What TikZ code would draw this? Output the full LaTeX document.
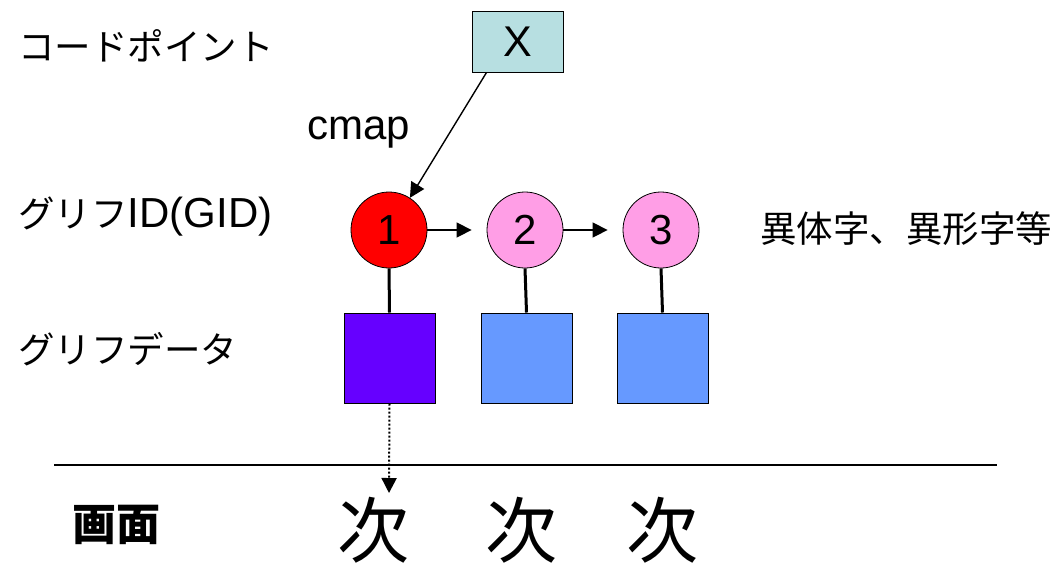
\documentclass[tikz,border=0pt]{standalone}
\usepackage{fontspec}
\setmainfont{Liberation Sans}
\newfontfamily\jp{Noto Sans CJK JP}
\usetikzlibrary{arrows.meta}
\definecolor{xfill}{HTML}{B7DFE1}
\definecolor{pinkc}{HTML}{FF9EE6}
\definecolor{violetsq}{HTML}{6600FF}
\definecolor{bluesq}{HTML}{6699FF}
\tikzset{
  lbl/.style={anchor=west, inner sep=0pt, font=\fontsize{36.5}{40}\selectfont\jp},
  gid/.style={circle, draw=black, line width=0.8pt, minimum size=76pt, inner sep=0pt, font=\fontsize{42}{46}\selectfont},
  gdata/.style={draw=black, line width=1pt, minimum width=91pt, minimum height=90pt, inner sep=0pt},
  tip/.style={-{Triangle[length=15pt,width=15pt]}},
  arr/.style={tip, line width=1.4pt},
  stem/.style={line width=3pt},
  glyph/.style={inner sep=0pt, font=\fontsize{72}{76}\selectfont\jp}
}
\begin{document}
\begin{tikzpicture}[x=1pt,y=-1pt]
\useasboundingbox (0,0) rectangle (1064,566);
% left labels
\node[lbl] (lcp) at (18,46) {コードポイント};
\node[lbl] (lgid) at (18,217) {グリフ{\rmfamily\fontsize{42}{46}\selectfont ID(GID)}};
\node[lbl] (lgd) at (18,349) {グリフデータ};
\node[lbl] (lvar) at (760,229) {異体字、異形字等};
\node[anchor=west, inner sep=0pt, font=\fontsize{44}{48}\selectfont\jp\bfseries] (lscr) at (72,525) {画面};
% code point box
\node[draw=black, line width=1pt, fill=xfill, minimum width=91pt, minimum height=61pt, inner sep=0pt, font=\fontsize{43}{46}\selectfont] (x) at (517.5,41.5) {X};
\node[anchor=base west, inner sep=0pt, font=\fontsize{42}{46}\selectfont] (cmap) at (307,139) {cmap};
% GIDs
\node[gid, fill=red] (c1) at (389,230) {1};
\node[gid, fill=pinkc] (c2) at (525,230) {2};
\node[gid, fill=pinkc] (c3) at (661,230) {3};
% glyph data
\node[gdata, fill=violetsq] (s1) at (389.5,358) {};
\node[gdata, fill=bluesq] (s2) at (526.5,358) {};
\node[gdata, fill=bluesq] (s3) at (662.5,358) {};
% connectors
\draw[arr] ([xshift=15pt]x.south west) -- (c1.57);
\draw[arr] (c1.east) -- ([xshift=-15pt]c2.west);
\draw[arr] (c2.east) -- ([xshift=-15pt]c3.west);
\draw[stem] (c1.south) -- (s1.north);
\draw[stem] (c2.south) -- (s2.north);
\draw[stem] (c3.south) -- (s3.north);
% separator
\coordinate (la) at (54,465);
\coordinate (lb) at (997,465);
\draw[line width=1.4pt] (la) -- (lb);
% screen glyphs
\node[glyph] (g1) at (373,530) {次};
\node[glyph] (g2) at (521,530) {次};
\node[glyph] (g3) at (662,530) {次};
\coordinate (g1top) at (389,493);
\draw[tip, line width=2pt, dotted] (s1.south) -- (g1top);
\end{tikzpicture}
\end{document}
